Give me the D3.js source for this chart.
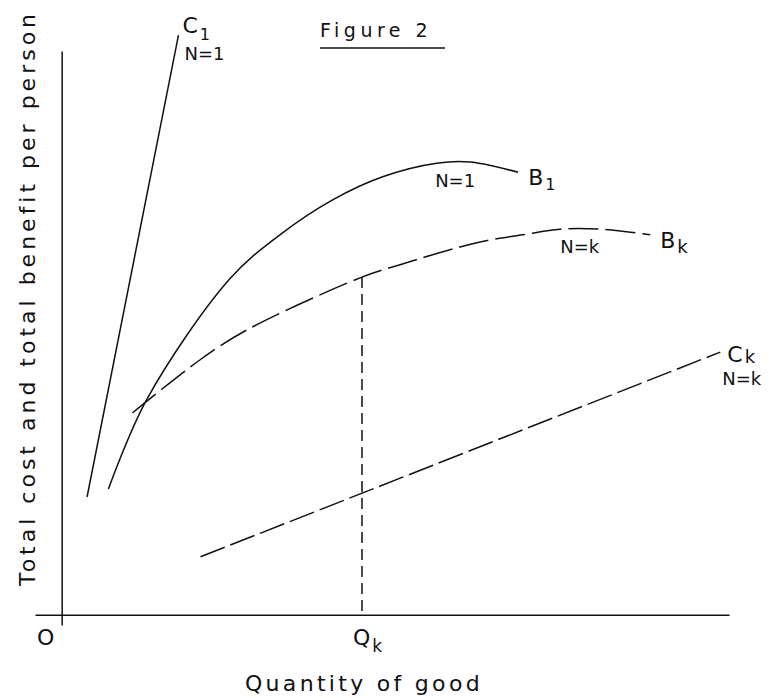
<!DOCTYPE html>
<html>
<head>
<meta charset="utf-8">
<script src="https://cdn.jsdelivr.net/npm/d3@7"></script>
<style>
body { margin: 0; background: #fff; }
svg text { font-family: 'DejaVu Sans', sans-serif; fill: #111; }
</style>
</head>
<body>
<div class="figure-wrapper"></div>
<script>
// curves, in axis units (x: quantity, y: cost / benefit)
const costOne = [[0.38, 2.09], [1.75, 10.28]]
const benefitOne = [[0.70, 2.23], [1.27, 3.81], [2.52, 5.96], [3.27, 6.74], [4.06, 7.36], [4.81, 7.77], [5.62, 8.01], [6.12, 8.03], [6.84, 7.85]]
const benefitK = [[1.06, 3.58], [2.07, 4.52], [2.77, 5.05], [4.50, 5.99], [5.07, 6.21], [6.22, 6.60], [6.91, 6.74], [7.47, 6.84], [8.07, 6.84], [8.82, 6.74]]
const costK = [[2.08, 1.03], [9.87, 4.66]]
const qk = 4.5
const qkBenefit = 5.99

const width = 772
const height = 698

const svg = d3.select('.figure-wrapper')
.append('svg')
.attr('width', width)
.attr('height', height)

let x = d3.scaleLinear()
.domain([-0.4, 10])
.range([35, 729])

let y = d3.scaleLinear()
.domain([-0.18, 10])
.range([625, 51])

// axes, no ticks, just the bare lines
svg.append('g')
.attr('transform', `translate(0,${y(0)})`)
.call(d3.axisBottom(x).tickValues([]).tickSizeOuter(0))

svg.append('g')
.attr('transform', `translate(${x(0)},0)`)
.call(d3.axisLeft(y).tickValues([]).tickSizeOuter(0))

svg.selectAll('.domain')
.attr('stroke', '#111')
.attr('stroke-width', 1.5)

const line = d3.line()
.x(d => x(d[0]))
.y(d => y(d[1]))

const smooth = d3.line()
.x(d => x(d[0]))
.y(d => y(d[1]))
.curve(d3.curveCatmullRom.alpha(0.5))

const curves = [
	{ d: costOne, gen: line, dash: null },
	{ d: benefitOne, gen: smooth, dash: null },
	{ d: benefitK, gen: smooth, dash: '30,7' },
	{ d: costK, gen: line, dash: '26,6' }
]

svg.append('g')
.selectAll('path')
.data(curves)
.enter()
.append('path')
.attr('d', c => c.gen(c.d))
.attr('fill', 'none')
.attr('stroke', '#111')
.attr('stroke-width', 1.5)
.attr('stroke-dasharray', c => c.dash)

// Qk drop line
svg.append('line')
.attr('x1', x(qk))
.attr('x2', x(qk))
.attr('y1', y(qkBenefit))
.attr('y2', y(0))
.attr('stroke', '#111')
.attr('stroke-width', 1.5)
.attr('stroke-dasharray', '11,6')

// label with subscript
const label = (px, py, main, sub, size, subSize, shift) => {
	let t = svg.append('text')
	.attr('x', px)
	.attr('y', py)
	.attr('font-size', size)
	.text(main)
	t.append('tspan')
	.attr('dx', 2)
	.attr('dy', shift)
	.attr('font-size', subSize)
	.text(sub)
	return t
}

const small = (px, py, txt) => svg.append('text')
	.attr('x', px)
	.attr('y', py)
	.attr('font-size', 18)
	.text(txt)

let c1End = costOne[costOne.length - 1]
label(x(c1End[0]) + 4, y(c1End[1]) - 2, 'C', '1', 22, 16, 7)
small(x(c1End[0]) + 6, y(c1End[1]) + 25, 'N=1')

let b1End = benefitOne[benefitOne.length - 1]
label(x(b1End[0]) + 10, y(b1End[1]) + 13, 'B', '1', 22, 16, 5)
small(x(b1End[0]) - 83, y(b1End[1]) + 15, 'N=1')

let bkEnd = benefitK[benefitK.length - 1]
label(x(bkEnd[0]) + 10, y(bkEnd[1]) + 13, 'B', 'k', 22, 18, 5)
small(x(bkEnd[0]) - 90, y(bkEnd[1]) + 18, 'N=k')

let ckEnd = costK[costK.length - 1]
label(x(ckEnd[0]) + 7, y(ckEnd[1]) + 10, 'C', 'k', 22, 18, 1)
small(x(ckEnd[0]) + 2, y(ckEnd[1]) + 33, 'N=k')

label(x(qk) - 9, y(0) + 30, 'Q', 'k', 22, 17, 7)

svg.append('text')
.attr('x', 37)
.attr('y', y(0) + 30)
.attr('font-size', 22)
.text('O')

svg.append('text')
.attr('x', 320)
.attr('y', 37)
.attr('font-size', 19)
.attr('letter-spacing', 4.5)
.text('Figure 2')

svg.append('line')
.attr('x1', 320)
.attr('x2', 445)
.attr('y1', 48)
.attr('y2', 48)
.attr('stroke', '#111')
.attr('stroke-width', 1.5)

svg.append('text')
.attr('x', 245)
.attr('y', 691)
.attr('font-size', 22)
.attr('letter-spacing', 3.3)
.text('Quantity of good')

svg.append('text')
.attr('transform', 'translate(35,298) rotate(-90)')
.attr('text-anchor', 'middle')
.attr('font-size', 22)
.attr('letter-spacing', 4)
.text('Total cost and total benefit per person')
</script>
</body>
</html>
